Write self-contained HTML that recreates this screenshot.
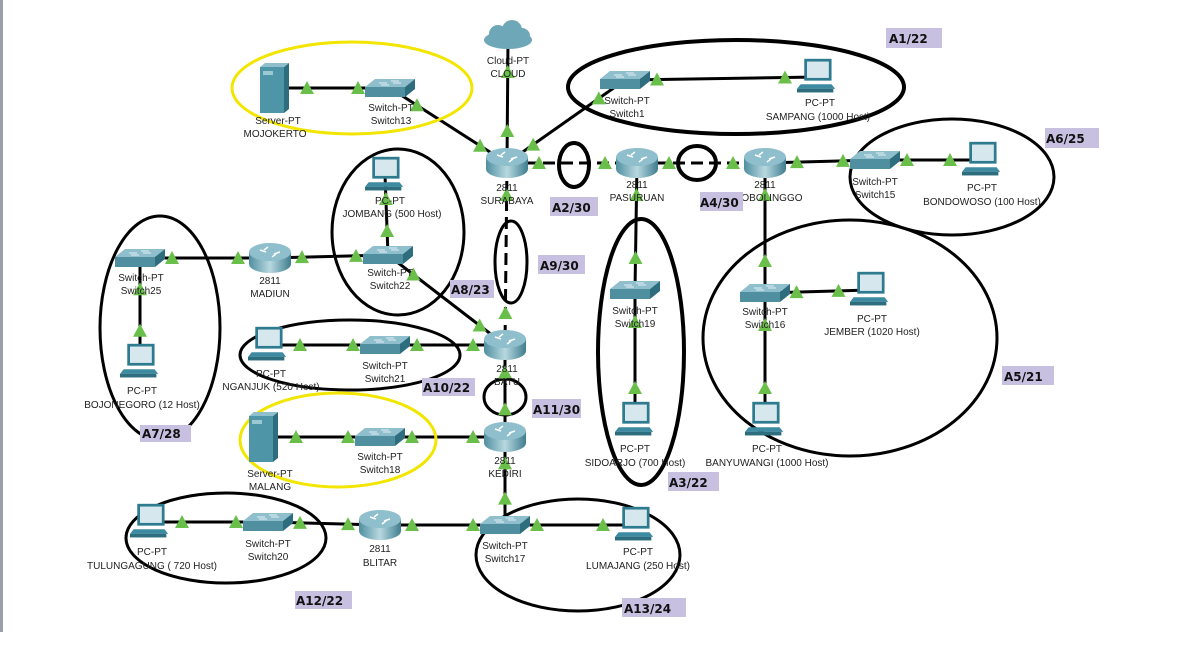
<!DOCTYPE html>
<html><head><meta charset="utf-8">
<style>
html,body{margin:0;padding:0;background:#fff;width:1187px;height:648px;overflow:hidden}
svg{position:absolute;left:0;top:0}
.t{font-family:"Liberation Sans",sans-serif;font-size:10px;fill:#222;text-anchor:middle}
.b{font-family:"DejaVu Sans",sans-serif;font-size:12px;font-weight:bold;fill:#111}
</style></head><body>
<svg id="s" width="1187" height="648" viewBox="0 0 1187 648">
<defs>
<linearGradient id="rg" x1="0" x2="1"><stop offset="0" stop-color="#4f8fa0"/><stop offset=".5" stop-color="#b8d8e0"/><stop offset="1" stop-color="#3e7d8e"/></linearGradient>
<symbol id="router" viewBox="0 0 44 32"><path d="M1 10 v12 a21 9 0 0 0 42 0 v-12z" fill="url(#rg)"/><ellipse cx="22" cy="10" rx="21" ry="9" fill="#8fbfcc"/><path d="M12 8 l6 2 M26 12 l6 -2 M20 5 l-4 3 M24 15 l4 -3" stroke="#fff" stroke-width="1.5"/></symbol>
<symbol id="switch" viewBox="0 0 50 22"><path d="M0 10 L10 2 H50 L40 10Z" fill="#8fbfcc"/><path d="M0 10 H40 V20 H0Z" fill="#4f8fa0"/><path d="M40 10 L50 2 V12 L40 20Z" fill="#2e6d7e"/><path d="M14 6 h8 M28 6 h8 M16 8 h8 M26 4 h8" stroke="#fff" stroke-width=".8"/></symbol>
<symbol id="pc" viewBox="0 0 44 40"><rect x="8" y="0" width="30" height="24" fill="#2e7a8e"/><rect x="11" y="3" width="24" height="18" fill="#d6e8ee"/><path d="M4 28 H38 L42 33 H0Z" fill="#3e8aa0"/><rect x="0" y="33" width="40" height="4" fill="#2e6d7e"/></symbol>
<symbol id="server" viewBox="0 0 30 50"><rect x="0" y="4" width="24" height="46" fill="#4f95a8"/><path d="M24 4 L29 0 V46 L24 50Z" fill="#2e6d7e"/><path d="M0 4 L5 0 H29 L24 4Z" fill="#8fbfcc"/><rect x="3" y="8" width="10" height="4" fill="#9cc8d4"/></symbol>
</defs>
<rect x="0" y="0" width="3" height="632" fill="#9aa0a8"/>
<g id="links" stroke="#000" stroke-width="3" fill="none"></g>
<g id="ell" fill="none" stroke-width="4">
<ellipse cx="352" cy="88" rx="120" ry="46" stroke="#f2e600" stroke-width="3"/>
<ellipse cx="736" cy="87" rx="168" ry="47" stroke="#000"/>
<ellipse cx="398" cy="232" rx="66" ry="83" stroke="#000" stroke-width="3"/>
<ellipse cx="952" cy="177" rx="102" ry="58" stroke="#000" stroke-width="3"/>
<ellipse cx="160" cy="328" rx="60" ry="112" stroke="#000" stroke-width="3"/>
<ellipse cx="511" cy="262" rx="16" ry="41" stroke="#000" stroke-width="3"/>
<ellipse cx="574" cy="165" rx="15" ry="22" stroke="#000"/>
<ellipse cx="697" cy="163" rx="19" ry="17" stroke="#000"/>
<ellipse cx="641" cy="352" rx="43" ry="133" stroke="#000"/>
<ellipse cx="850" cy="338" rx="147" ry="118" stroke="#000" stroke-width="3"/>
<ellipse cx="350" cy="355" rx="110" ry="35" stroke="#000" stroke-width="3"/>
<ellipse cx="505" cy="397" rx="21" ry="18" stroke="#000" stroke-width="3"/>
<ellipse cx="338" cy="440" rx="98" ry="47" stroke="#f2e600" stroke-width="3"/>
<ellipse cx="226" cy="538" rx="100" ry="45" stroke="#000" stroke-width="3"/>
<ellipse cx="578" cy="555" rx="102" ry="56" stroke="#000" stroke-width="3"/>
</g>
<g id="nodes"></g>
<g id="tri" fill="#6abf4b"></g>
<!-- cloud -->
<g fill="#6ea8b8"><ellipse cx="508" cy="40" rx="24" ry="9"/><circle cx="498" cy="34" r="9"/><circle cx="512" cy="30" r="10"/><circle cx="522" cy="36" r="8"/></g>
<g class="t">
<text x="508" y="64">Cloud-PT</text><text x="508" y="77">CLOUD</text>
<text x="278" y="124">Server-PT</text><text x="275" y="137">MOJOKERTO</text>
<text x="391" y="111">Switch-PT</text><text x="391" y="124">Switch13</text>
<text x="507" y="191">2811</text><text x="507" y="204">SURABAYA</text>
<text x="627" y="104">Switch-PT</text><text x="627" y="117">Switch1</text>
<text x="820" y="106">PC-PT</text><text x="818" y="120">SAMPANG (1000 Host)</text>
<text x="637" y="188">2811</text><text x="637" y="201">PASURUAN</text>
<text x="765" y="188">2811</text><text x="765" y="201">PROBOLINGGO</text>
<text x="875" y="185">Switch-PT</text><text x="875" y="198">Switch15</text>
<text x="982" y="191">PC-PT</text><text x="982" y="205">BONDOWOSO (100 Host)</text>
<text x="390" y="204">PC-PT</text><text x="392" y="217">JOMBANG (500 Host)</text>
<text x="390" y="276">Switch-PT</text><text x="390" y="289">Switch22</text>
<text x="270" y="284">2811</text><text x="270" y="297">MADIUN</text>
<text x="141" y="281">Switch-PT</text><text x="141" y="294">Switch25</text>
<text x="142" y="394">PC-PT</text><text x="142" y="408">BOJONEGORO (12 Host)</text>
<text x="507" y="372">2811</text><text x="507" y="385">BATU</text>
<text x="271" y="377">PC-PT</text><text x="271" y="390">NGANJUK (520 Host)</text>
<text x="385" y="369">Switch-PT</text><text x="385" y="382">Switch21</text>
<text x="505" y="464">2811</text><text x="505" y="477">KEDIRI</text>
<text x="270" y="477">Server-PT</text><text x="270" y="490">MALANG</text>
<text x="380" y="460">Switch-PT</text><text x="380" y="473">Switch18</text>
<text x="635" y="314">Switch-PT</text><text x="635" y="327">Switch19</text>
<text x="635" y="452">PC-PT</text><text x="635" y="466">SIDOARJO (700 Host)</text>
<text x="765" y="315">Switch-PT</text><text x="765" y="328">Switch16</text>
<text x="872" y="322">PC-PT</text><text x="872" y="335">JEMBER (1020 Host)</text>
<text x="767" y="452">PC-PT</text><text x="767" y="466">BANYUWANGI (1000 Host)</text>
<text x="380" y="552">2811</text><text x="380" y="566">BLITAR</text>
<text x="268" y="547">Switch-PT</text><text x="268" y="560">Switch20</text>
<text x="152" y="555">PC-PT</text><text x="152" y="569">TULUNGAGUNG ( 720 Host)</text>
<text x="505" y="549">Switch-PT</text><text x="505" y="562">Switch17</text>
<text x="638" y="555">PC-PT</text><text x="638" y="569">LUMAJANG (250 Host)</text>
</g>
<g fill="#c8c0e0">
<rect x="886" y="28" width="56" height="20"/><rect x="550" y="197" width="48" height="19"/><rect x="700" y="192" width="43" height="19"/>
<rect x="1045" y="128" width="54" height="20"/><rect x="538" y="255" width="47" height="19"/><rect x="450" y="280" width="44" height="18"/>
<rect x="422" y="378" width="53" height="18"/><rect x="532" y="399" width="49" height="19"/><rect x="140" y="425" width="51" height="17"/>
<rect x="668" y="472" width="51" height="19"/><rect x="1002" y="366" width="52" height="19"/><rect x="295" y="591" width="57" height="18"/>
<rect x="622" y="598" width="64" height="19"/>
</g>
<g class="b">
<text x="889" y="43">A1/22</text><text x="552" y="212">A2/30</text><text x="700" y="207">A4/30</text>
<text x="1046" y="143">A6/25</text><text x="540" y="270">A9/30</text><text x="451" y="294">A8/23</text>
<text x="423" y="392">A10/22</text><text x="533" y="414">A11/30</text><text x="142" y="438">A7/28</text>
<text x="669" y="487">A3/22</text><text x="1004" y="381">A5/21</text><text x="296" y="605">A12/22</text>
<text x="624" y="613">A13/24</text>
</g>
</svg>
<script>
var N={cloud:[508,40],srvM:[275,88],sw13:[390,88],sby:[507,163],sw1:[625,80],samp:[817,77],pas:[637,163],prob:[765,163],sw15:[875,160],bond:[982,160],
jomb:[385,175],sw22:[388,255],mad:[270,258],sw25:[140,258],boj:[140,362],batu:[505,345],ngj:[268,345],sw21:[385,345],ked:[505,437],srvL:[264,437],sw18:[380,437],
sw19:[635,290],sid:[635,420],sw16:[765,293],jem:[870,290],bwi:[765,420],bli:[380,525],sw20:[268,522],tul:[150,522],sw17:[505,525],lum:[635,525]};
var T={cloud:'c',srvM:'server',srvL:'server',sby:'router',pas:'router',prob:'router',mad:'router',batu:'router',ked:'router',bli:'router',
samp:'pc',bond:'pc',jomb:'pc',boj:'pc',ngj:'pc',sid:'pc',jem:'pc',bwi:'pc',tul:'pc',lum:'pc'};
var L=[['srvM','sw13'],['sw13','sby'],['cloud','sby'],['sby','sw1'],['sw1','samp'],['sby','pas',1],['pas','prob',1],['prob','sw15'],['sw15','bond'],
['prob','sw16'],['sw16','jem'],['sw16','bwi'],['pas','sw19'],['sw19','sid'],['sby','batu',1],['sw22','batu'],['jomb','sw22'],['sw22','mad'],['mad','sw25'],
['sw25','boj'],['ngj','sw21'],['sw21','batu'],['batu','ked'],['srvL','sw18'],['sw18','ked'],['ked','sw17'],['sw17','lum'],['sw17','bli'],['bli','sw20'],['sw20','tul']];
var ns='http://www.w3.org/2000/svg';
function el(p,n,a){var e=document.createElementNS(ns,n);for(var k in a)e.setAttribute(k,a[k]);document.getElementById(p).appendChild(e);return e;}
L.forEach(function(l){var a=N[l[0]],b=N[l[1]];var o={x1:a[0],y1:a[1],x2:b[0],y2:b[1]};if(l[2])o['stroke-dasharray']='12,6';el('links','line',o);
var dx=b[0]-a[0],dy=b[1]-a[1],d=Math.hypot(dx,dy),f=Math.min(32,d*0.3)/d;
[[a[0]+dx*f,a[1]+dy*f],[b[0]-dx*f,b[1]-dy*f]].forEach(function(p){el('tri','path',{d:'M'+(p[0]-7)+' '+(p[1]+6)+' L'+p[0]+' '+(p[1]-7)+' L'+(p[0]+7)+' '+(p[1]+6)+'Z'});});});
for(var k in N){var t=T[k]||'switch',p=N[k];if(t=='c')continue;
var w={router:44,switch:50,pc:40,server:30}[t],h={router:32,switch:22,pc:37,server:50}[t];
el('nodes','use',{href:'#'+t,x:p[0]-w/2,y:p[1]-h/2,width:w,height:h});}
</script>
</body></html>
